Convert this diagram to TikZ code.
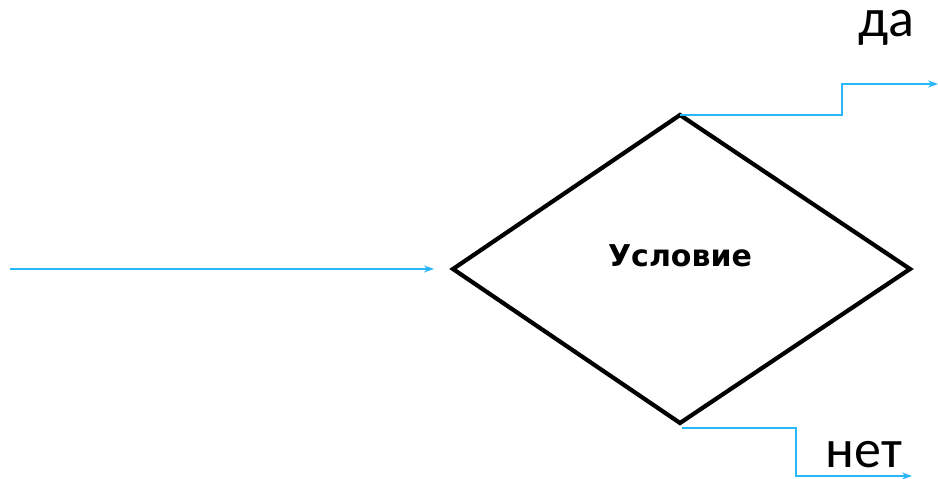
\documentclass[tikz,border=0pt]{standalone}
\usepackage{fontspec}
\setmainfont{Carlito}
\newfontfamily\boldsans{DejaVu Sans}
\usetikzlibrary{arrows.meta}
\definecolor{flow}{RGB}{41,182,246}
\begin{document}
\begin{tikzpicture}[x=1pt,y=1pt,
  conn/.style={draw=flow, line width=2.2pt, -{Stealth[length=10pt,width=7pt]}},
  shapeline/.style={draw=black, line width=4.2pt, line join=miter},
  lbl/.style={font=\fontsize{54}{60}\selectfont, inner sep=0pt}]
\useasboundingbox (0,0) rectangle (938,479);
\coordinate (L) at (453,210);
\coordinate (T) at (680,364);
\coordinate (R) at (910,210);
\coordinate (B) at (680,56);
\draw[shapeline] (L) -- (T) -- (R) -- (B) -- cycle;
\node (cond) at (680,223) {\boldsans\bfseries\fontsize{30}{34}\selectfont Условие};
\coordinate (in) at (10,210);
\coordinate (inend) at (434,210);
\coordinate (yes) at (938,395);
\coordinate (no) at (912,3);
\draw[conn] (in) -- (inend);
\draw[conn] (T) -| (842,395) -- (yes);
\draw[conn] ([xshift=2pt,yshift=-5pt]B) -| (796,3) -- (no);
\node[lbl] (da) at (886,451) {да};
\node[lbl] (net) at (864,24) {нет};
\end{tikzpicture}
\end{document}
